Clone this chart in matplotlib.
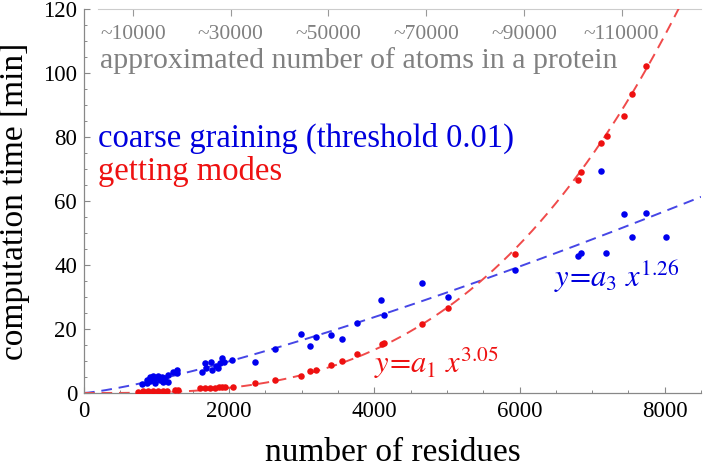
import numpy as np
import matplotlib.pyplot as plt

plt.rcParams['font.family'] = ['Liberation Serif', 'DejaVu Serif']
plt.rcParams['mathtext.fontset'] = 'stix'

# --- data ---
# coarse graining (threshold 0.01), blue points
cg_res = [796, 865, 865, 910, 956, 979, 1025, 1048, 1071, 1117, 1163, 1163, 979, 910, 1090,
          1278, 1278, 1232,
          1623, 1669, 1678, 1751, 1761, 1816, 1852, 1875, 1907, 1935, 2045,
          2362, 2630, 2983, 3107, 3199, 3406, 3553, 3765, 4096, 4137, 4657, 5020, 5939,
          6808, 6840, 7125, 7189, 7442, 7553, 7737, 8022]
cg_time = [2.7, 4.1, 3.0, 5.1, 5.3, 4.6, 5.3, 4.1, 5.1, 4.6, 5.6, 3.5, 3.1, 3.75, 3.4,
           7.2, 6.3, 6.5,
           6.7, 9.3, 7.7, 9.8, 7.2, 8.5, 7.7, 9.3, 10.8, 9.8, 10.3,
           9.7, 13.75, 18.5, 14.6, 17.6, 18.1, 16.8, 21.8, 29.2, 24.5, 34.3, 30.1, 38.4,
           42.8, 43.8, 69.3, 43.9, 55.9, 48.9, 56.2, 48.9]

# getting modes, red points
gm_res = [749, 818, 887, 956, 1025, 1094, 1140, 1255, 1300,
          1600, 1669, 1738, 1806, 1862, 1899, 1944, 2059,
          2362, 2630, 2983, 3107, 3199, 3406, 3553, 3765, 4105, 4133, 4657, 5020, 5939,
          6803, 6845, 7125, 7199, 7438, 7553, 7737]
gm_time = [0.4, 0.6, 0.6, 0.6, 0.6, 0.6, 0.6, 0.9, 0.8,
           1.5, 1.5, 1.5, 1.7, 1.8, 2.0, 2.0, 2.0,
           3.1, 4.2, 5.2, 6.9, 7.3, 8.75, 10.0, 12.1, 15.2, 15.5, 21.5, 26.5, 43.5,
           66.7, 69.2, 78.0, 80.3, 86.6, 93.5, 102.3]

# power-law fits y = a x^b
b1 = 3.05
a1 = 120 / 8190 ** b1
b3 = 1.26
a3 = 61.3 / 8500 ** b3

atoms_per_residue = 14.85
atom_ticks = [10000, 30000, 50000, 70000, 90000, 110000]
atom_labels = ['~10000', '~30000', '~50000', '~70000', '~90000', '~110000']

fig = plt.figure(figsize=(7.05, 4.71), dpi=100)
ax = fig.add_axes([84/705, 1-393/471, (701-84)/705, (393-9)/471])

xs = np.linspace(0, 8500, 400)
ax.plot(xs, a3 * xs ** b3, color='#4646e6', lw=1.4, dashes=(5.5, 3.5), zorder=2)
ax.plot(xs, a1 * xs ** b1, color='#f04a4a', lw=1.4, dashes=(5.5, 3.5), zorder=2)
ax.scatter(cg_res, cg_time, s=22, color='#0000ee', lw=0, zorder=3)
ax.scatter(gm_res, gm_time, s=22, color='#ee1010', lw=0, zorder=3)

ax.set_xlim(0, 8500)
ax.set_ylim(0, 120)
ax.set_xticks([0, 2000, 4000, 6000, 8000])
ax.set_xticks(np.arange(0, 8501, 500), minor=True)
ax.set_yticks([0, 20, 40, 60, 80, 100, 120])
ax.set_yticks(np.arange(0, 121, 5), minor=True)
for s in ['top', 'right']:
    ax.spines[s].set_visible(False)
for s in ['left', 'bottom']:
    ax.spines[s].set_color('#888888')
    ax.spines[s].set_linewidth(0.9)
ax.tick_params(which='both', direction='in', colors='#888888', labelcolor='black',
               labelsize=16.5)
ax.tick_params(which='major', length=4.5, width=0.8)
ax.tick_params(which='minor', length=2.5, width=0.7)
ax.tick_params(axis='x', pad=6)
ax.tick_params(axis='y', pad=5)

ax.set_xlabel('number of residues', fontsize=24)
ax.xaxis.set_label_coords(0.5, -0.115)
ax.set_ylabel('computation time [min]', fontsize=24)
ax.yaxis.set_label_coords(-0.088, 0.5)

# top axis: approximate number of atoms
sec = ax.secondary_xaxis('top', functions=(lambda r: r * atoms_per_residue,
                                           lambda a: a / atoms_per_residue))
sec.set_xticks(atom_ticks)
sec.set_xticklabels(atom_labels)
sec.spines['top'].set_color('#cccccc')
sec.spines['top'].set_bounds(14 * 13.79 * atoms_per_residue, 8500 * atoms_per_residue)
sec.tick_params(direction='in', length=5, width=0.8, colors='#999999',
                labelcolor='#808080', labelsize=15.5, pad=-25.5)

ax.text(0.026, 0.867, 'approximated number of atoms in a protein', transform=ax.transAxes,
        fontsize=21.5, color='#808080', ha='left', va='center')
ax.text(0.022, 0.664, 'coarse graining (threshold 0.01)', transform=ax.transAxes,
        fontsize=23.5, color='#0000dd', ha='left', va='center')
ax.text(0.022, 0.576, 'getting modes', transform=ax.transAxes,
        fontsize=23.5, color='#ee1111', ha='left', va='center')

ax.text(4000, 9.5, r'$y\!=\!a_1\ x^{3.05}$', fontsize=22, color='#ee1111',
        ha='left', va='center')
ax.text(6480, 36.5, r'$y\!=\!a_3\ x^{1.26}$', fontsize=22, color='#0000dd',
        ha='left', va='center')

fig.savefig('out.png', dpi=100)
